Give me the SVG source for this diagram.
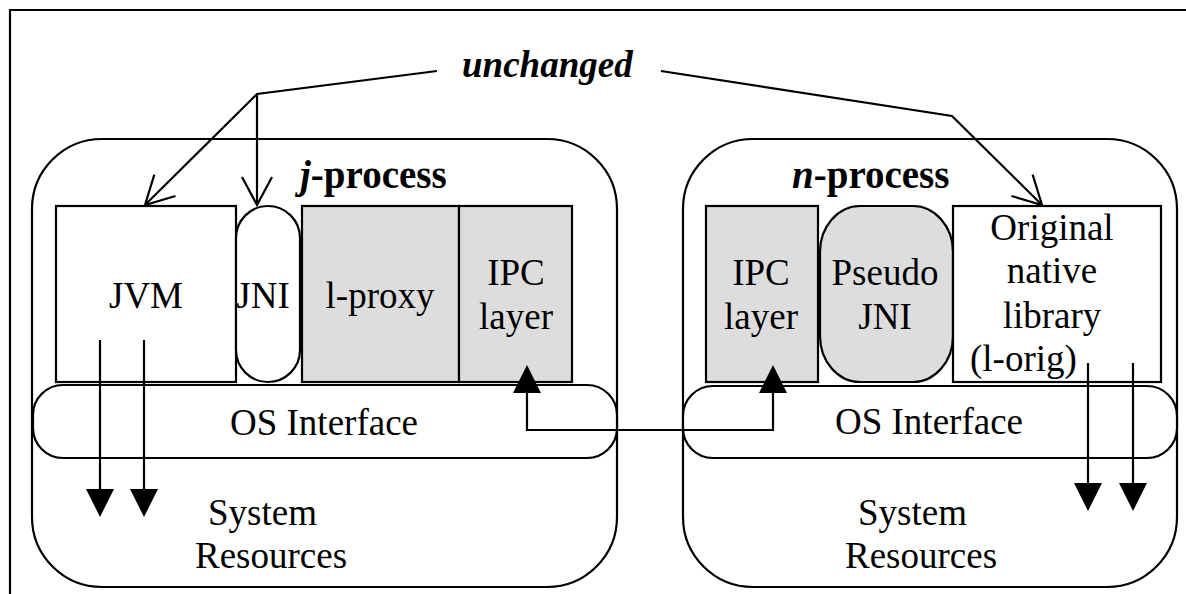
<svg xmlns="http://www.w3.org/2000/svg" width="1186" height="594" viewBox="0 0 1186 594">
  <style>
    .ln { fill: none; stroke: #000; stroke-width: 2.2; }
    .box { fill: #fff; stroke: #000; stroke-width: 2.2; }
    .shade { fill: #dddddd; stroke: #000; stroke-width: 2.2; }
    text { font-family: "Liberation Serif", "Times New Roman", serif; font-size: 37px; fill: #000; }
    .mid { text-anchor: middle; }
    .title { font-weight: bold; font-size: 39px; }
    .em { font-style: italic; font-weight: bold; }
  </style>
  <defs>
    <marker id="open" markerUnits="userSpaceOnUse" orient="auto" markerWidth="40" markerHeight="40" refX="0" refY="0" overflow="visible">
      <path d="M-28,-15 L0,0 L-28,15" fill="none" stroke="#000" stroke-width="2.2"/>
    </marker>
    <marker id="solid" markerUnits="userSpaceOnUse" orient="auto-start-reverse" markerWidth="40" markerHeight="40" refX="0" refY="0" overflow="visible">
      <path d="M0,-14 L28,0 L0,14 Z" fill="#000"/>
    </marker>
  </defs>

  <rect width="1186" height="594" fill="#fff"/>

  <!-- outer frame: top and left edges only -->
  <g id="frame">
    <path class="ln" d="M10,594 V10 H1186" stroke-width="2"/>
  </g>

  <!-- Java side process -->
  <g id="j-process">
    <rect class="box" x="32" y="139" width="585" height="448" rx="70" ry="70"/>
    <text class="title" x="300" y="188"><tspan font-style="italic">j</tspan>-process</text>
    <text x="208" y="525">System</text>
    <text x="195" y="568">Resources</text>
  </g>
  <g id="os-j">
    <rect class="box" x="33" y="385" width="584" height="73" rx="30" ry="30"/>
    <text x="230" y="435">OS Interface</text>
  </g>
  <g id="jvm">
    <rect class="box" x="56" y="206" width="180" height="176"/>
    <text class="mid" x="146" y="308">JVM</text>
  </g>
  <g id="jni">
    <rect class="box" x="236" y="206" width="64" height="176" rx="32" ry="32"/>
    <text class="mid" x="263" y="308">JNI</text>
  </g>
  <g id="l-proxy">
    <rect class="shade" x="302" y="206" width="157" height="176"/>
    <text class="mid" x="380" y="308">l-proxy</text>
  </g>
  <g id="ipc-j">
    <rect class="shade" x="459" y="206" width="113" height="176"/>
    <text class="mid" x="516" y="285">IPC</text>
    <text class="mid" x="516" y="329">layer</text>
  </g>

  <!-- native side process -->
  <g id="n-process">
    <rect class="box" x="683" y="139" width="494" height="448" rx="70" ry="70"/>
    <text class="title" x="792" y="188"><tspan font-style="italic">n</tspan>-process</text>
    <text x="858" y="525">System</text>
    <text x="845" y="568">Resources</text>
  </g>
  <g id="os-n">
    <rect class="box" x="683" y="386" width="494" height="72" rx="30" ry="30"/>
    <text x="835" y="434">OS Interface</text>
  </g>
  <g id="ipc-n">
    <rect class="shade" x="706" y="206" width="112" height="176"/>
    <text class="mid" x="761" y="285">IPC</text>
    <text class="mid" x="761" y="329">layer</text>
  </g>
  <g id="pseudo-jni">
    <rect class="shade" x="820" y="206" width="133" height="176" rx="40" ry="46"/>
    <text class="mid" x="885" y="285">Pseudo</text>
    <text class="mid" x="885" y="329">JNI</text>
  </g>
  <g id="l-orig">
    <rect class="box" x="953" y="206" width="208" height="176"/>
    <text class="mid" x="1052" y="240">Original</text>
    <text class="mid" x="1052" y="283">native</text>
    <text class="mid" x="1052" y="328">library</text>
    <text x="970" y="371">(l-orig)</text>
  </g>

  <g id="unchanged-label">
    <text class="em" x="462" y="77">unchanged</text>
  </g>

  <g id="connectors">
    <!-- "unchanged" pointers -->
    <path class="ln" d="M437,71 L257,94 L145,205" marker-end="url(#open)"/>
    <path class="ln" d="M257,94 L257,205" marker-end="url(#open)"/>
    <path class="ln" d="M661,71 L952,116 L1042,205" marker-end="url(#open)"/>
    <!-- IPC link between the two processes -->
    <path class="ln" d="M527,393 V430 H773 V393" marker-start="url(#solid)" marker-end="url(#solid)"/>
    <!-- calls into system resources -->
    <path class="ln" d="M100,340 V489" marker-end="url(#solid)"/>
    <path class="ln" d="M144,340 V489" marker-end="url(#solid)"/>
    <path class="ln" d="M1088,363 V483" marker-end="url(#solid)"/>
    <path class="ln" d="M1133,363 V483" marker-end="url(#solid)"/>
  </g>
</svg>
